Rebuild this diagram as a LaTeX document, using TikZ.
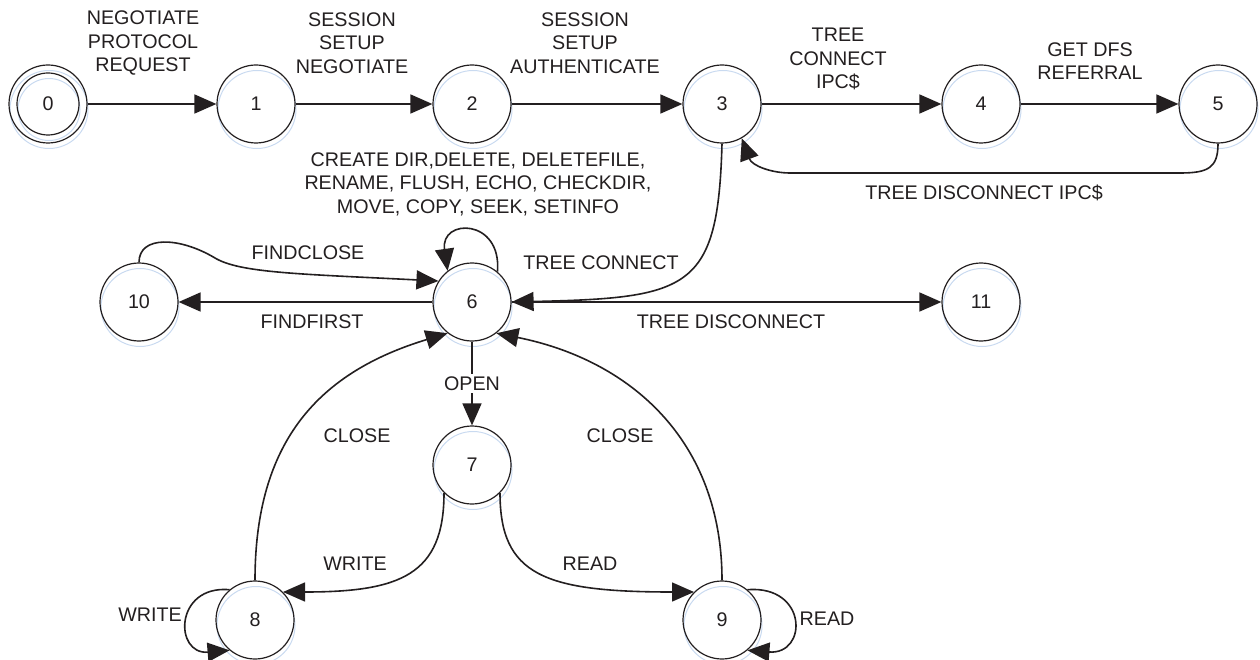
\documentclass[tikz,border=0pt]{standalone}
\usepackage{fontspec}
\setmainfont{Liberation Sans}
\usetikzlibrary{arrows.meta}
\definecolor{ink}{HTML}{231F20}
\definecolor{ghost}{HTML}{C9DAF0}
\begin{document}
\begin{tikzpicture}[x=1pt,y=1pt,
  every node/.style={font=\fontsize{19.7}{23.5}\selectfont, text=ink},
  state/.style={circle, draw=ink, line width=1.2pt, minimum size=78pt, inner sep=0pt},
  ghostc/.style={draw=ghost, line width=1pt},
  edge/.style={draw=ink, line width=1.6pt, -{Triangle[length=22pt,width=19pt]}},
  lbl/.style={align=center, inner sep=0pt}]
\useasboundingbox (0,0) rectangle (1260,-660);
% faint offset rings
\foreach \x/\y in {48/104,256/104,472/104,722/104,981/104,1218/104,472/302,139/302,981/302,472/465,255/620,722/620}
  \draw[ghostc] (\x+1,-\y-5.5) circle[radius=39];
\draw[ghostc] (49,-109.5) circle[radius=31];
% states
\node[state] (n0) at (48,-104) {0};
\draw[ink, line width=1.2pt] (n0.center) circle[radius=31];
\node[state] (n1) at (256,-104) {1};
\node[state] (n2) at (472,-104) {2};
\node[state] (n3) at (722,-104) {3};
\node[state] (n4) at (981,-104) {4};
\node[state] (n5) at (1218,-104) {5};
\node[state] (n6) at (472,-302) {6};
\node[state] (n10) at (139,-302) {10};
\node[state] (n11) at (981,-302) {11};
\node[state] (n7) at (472,-465) {7};
\node[state] (n8) at (255,-620) {8};
\node[state] (n9) at (722,-620) {9};
% labels
\node[lbl] (l01) at (143,-43) {NEGOTIATE\\PROTOCOL\\REQUEST};
\node[lbl] (l12) at (352,-43) {SESSION\\SETUP\\NEGOTIATE};
\node[lbl] (l23) at (585,-43) {SESSION\\SETUP\\AUTHENTICATE};
\node[lbl] (l34) at (838,-59) {TREE\\CONNECT\\IPC\$};
\node[lbl] (l45) at (1090,-61) {GET DFS\\REFERRAL};
\node[lbl] (l53) at (984,-193) {TREE DISCONNECT IPC\$};
\node[lbl] (l66) at (478,-184) {CREATE DIR,DELETE, DELETEFILE,\\RENAME, FLUSH, ECHO, CHECKDIR,\\MOVE, COPY, SEEK, SETINFO};
\node[lbl] (l36) at (601,-263) {TREE CONNECT};
\node[lbl] (l106) at (308,-253) {FINDCLOSE};
\node[lbl] (l610) at (312,-322) {FINDFIRST};
\node[lbl] (l611) at (731,-322) {TREE DISCONNECT};
\node[lbl] (l86) at (357,-436) {CLOSE};
\node[lbl] (l96) at (620,-436) {CLOSE};
\node[lbl] (l78) at (355,-564) {WRITE};
\node[lbl] (l79) at (590,-564) {READ};
\node[lbl] (l88) at (150,-615) {WRITE};
\node[lbl] (l99) at (827,-619) {READ};
% edges
\draw[edge] (n0) -- (n1);
\draw[edge] (n1) -- (n2);
\draw[edge] (n2) -- (n3);
\draw[edge] (n3) -- (n4);
\draw[edge] (n4) -- (n5);
\draw[edge] (n5.south) .. controls (1218,-168) and (1208,-173) .. (1180,-173) -- (790,-173) .. controls (772,-173) and (752,-166) .. (n3.-60);
\draw[edge] (n3.south) .. controls (718,-290) and (690,-298) .. (n6.east);
\draw[edge] (n6) -- (n10);
\draw[edge] (n6) -- (n11);
\draw[edge] (n10.north) .. controls (139,-235) and (180,-237) .. (215,-258) .. controls (240,-273) and (300,-274) .. (n6.148);
\draw[edge] (n6.50) .. controls (502,-218) and (440,-218) .. (n6.128);
\draw[edge] (n6) -- node[fill=white, inner sep=3pt] (lopen) {OPEN} (n7);
\draw[edge] (n7.-135) .. controls (444,-575) and (400,-592) .. (n8.45);
\draw[edge] (n7.-45) .. controls (500,-575) and (544,-592) .. (n9.135);
\draw[edge] (n8.north) .. controls (255,-440) and (320,-372) .. (n6.-128);
\draw[edge] (n9.north) .. controls (722,-440) and (630,-360) .. (n6.-52);
\draw[edge] (n8.130) .. controls (174,-585) and (174,-655) .. (n8.-130);
\draw[edge] (n9.50) .. controls (808,-585) and (808,-655) .. (n9.-50);
\end{tikzpicture}
\end{document}
